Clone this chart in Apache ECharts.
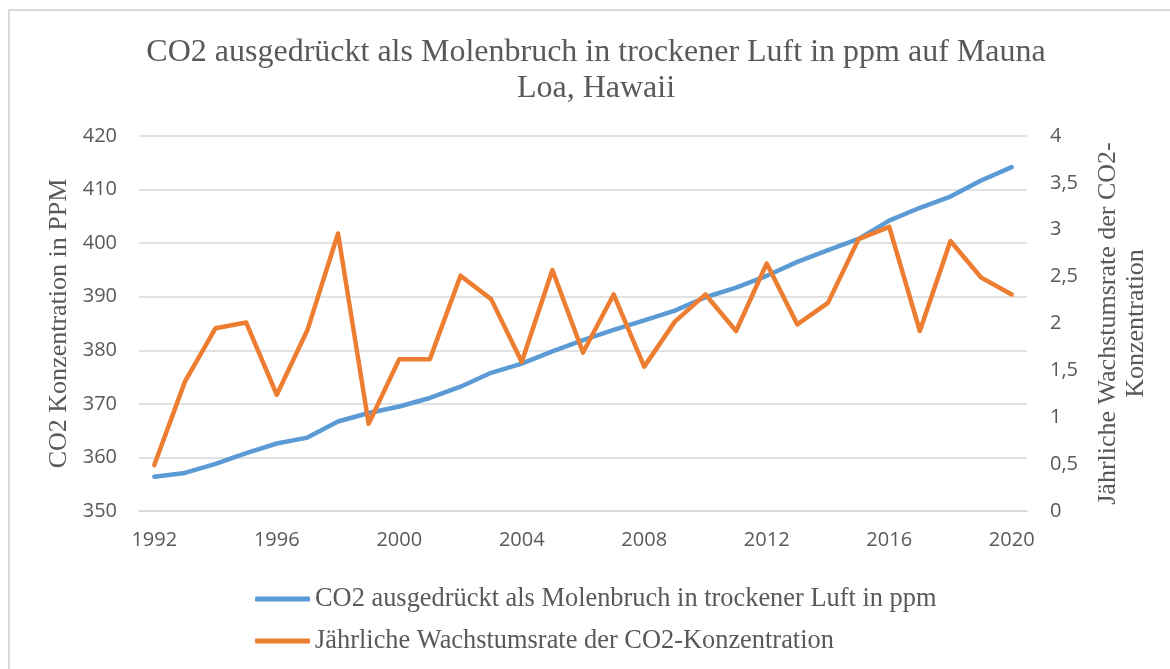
<!DOCTYPE html>
<html>
<head>
<meta charset="utf-8">
<script src="https://cdn.jsdelivr.net/npm/echarts@6/dist/echarts.min.js"></script>
<style>html,body{margin:0;padding:0;background:#fff;}#c{width:1170px;height:669px;}</style>
</head>
<body>
<div id="c"></div>
<script>
var years = ['1992','1993','1994','1995','1996','1997','1998','1999','2000','2001','2002','2003','2004','2005','2006','2007','2008','2009','2010','2011','2012','2013','2014','2015','2016','2017','2018','2019','2020'];
var co2ppm = [356.4,357.1,358.8,360.8,362.6,363.7,366.7,368.3,369.5,371.1,373.2,375.8,377.5,379.8,381.9,383.8,385.6,387.4,389.9,391.7,393.9,396.5,398.7,400.8,404.2,406.6,408.7,411.7,414.2];
var growthRate = [0.49,1.38,1.95,2.01,1.24,1.93,2.96,0.93,1.62,1.62,2.51,2.26,1.59,2.57,1.69,2.31,1.54,2.02,2.31,1.92,2.64,1.99,2.22,2.90,3.03,1.92,2.88,2.49,2.31];
var titleText = 'CO2 ausgedrückt als Molenbruch in trockener Luft in ppm auf Mauna\nLoa, Hawaii';
var seriesNames = ['CO2 ausgedrückt als Molenbruch in trockener Luft in ppm','Jährliche Wachstumsrate der CO2-Konzentration'];
var leftAxisName = 'CO2 Konzentration in PPM';
var rightAxisName = 'Jährliche Wachstumsrate der CO2-\nKonzentration';

var serif = '"Liberation Serif", "Times New Roman", serif';
var sans = '"Open Sans", "Liberation Sans", sans-serif';
var grey = '#595959';

var chart = echarts.init(document.getElementById('c'));
chart.setOption({
  backgroundColor: '#fff',
  animation: false,
  graphic: [{
    type: 'rect', silent: true,
    shape: {x: 9, y: 10, width: 1200, height: 700},
    style: {fill: 'none', stroke: '#d9d9d9', lineWidth: 2}
  }],
  title: {
    text: titleText,
    left: 591, top: 30, textAlign: 'center',
    textStyle: {fontFamily: serif, fontSize: 32, fontWeight: 'normal', color: grey, lineHeight: 36}
  },
  legend: {
    orient: 'vertical', left: 250, top: 581,
    icon: 'roundRect', itemWidth: 55, itemHeight: 5, itemGap: 16,
    textStyle: {fontFamily: serif, fontSize: 26.4, color: grey},
    data: seriesNames
  },
  grid: {left: 139, right: 143, top: 136, bottom: 158, containLabel: false},
  xAxis: {
    type: 'category', data: years, boundaryGap: true,
    axisLine: {lineStyle: {color: '#d9d9d9', width: 1.5}},
    axisTick: {show: false},
    axisLabel: {interval: 3, margin: 19, fontFamily: sans, fontSize: 20, color: grey}
  },
  yAxis: [{
    type: 'value', min: 350, max: 420, interval: 10,
    name: leftAxisName, nameLocation: 'middle', nameRotate: 90, nameGap: 67,
    nameTextStyle: {fontFamily: serif, fontSize: 26, color: grey},
    axisLine: {show: false}, axisTick: {show: false},
    axisLabel: {margin: 22, fontFamily: sans, fontSize: 20, color: grey},
    splitLine: {lineStyle: {color: '#d9d9d9', width: 1.5}}
  }, {
    type: 'value', min: 0, max: 4, interval: 0.5, position: 'right',
    name: rightAxisName, nameLocation: 'middle', nameRotate: 90, nameGap: 67,
    nameTextStyle: {fontFamily: serif, fontSize: 26, color: grey, lineHeight: 28, align: 'center'},
    axisLine: {show: false}, axisTick: {show: false},
    axisLabel: {margin: 23, fontFamily: sans, fontSize: 20, color: grey,
      formatter: function (v) { return String(v).replace('.', ','); }},
    splitLine: {show: false}
  }],
  series: [{
    name: seriesNames[0], type: 'line', yAxisIndex: 0, data: co2ppm,
    showSymbol: false, symbol: 'none',
    lineStyle: {color: '#5B9BD5', width: 4.5, cap: 'round', join: 'round'},
    itemStyle: {color: '#5B9BD5'}
  }, {
    name: seriesNames[1], type: 'line', yAxisIndex: 1, data: growthRate,
    showSymbol: false, symbol: 'none',
    lineStyle: {color: '#ED7D31', width: 4.5, cap: 'round', join: 'round'},
    itemStyle: {color: '#ED7D31'}
  }]
});
</script>
</body>
</html>
